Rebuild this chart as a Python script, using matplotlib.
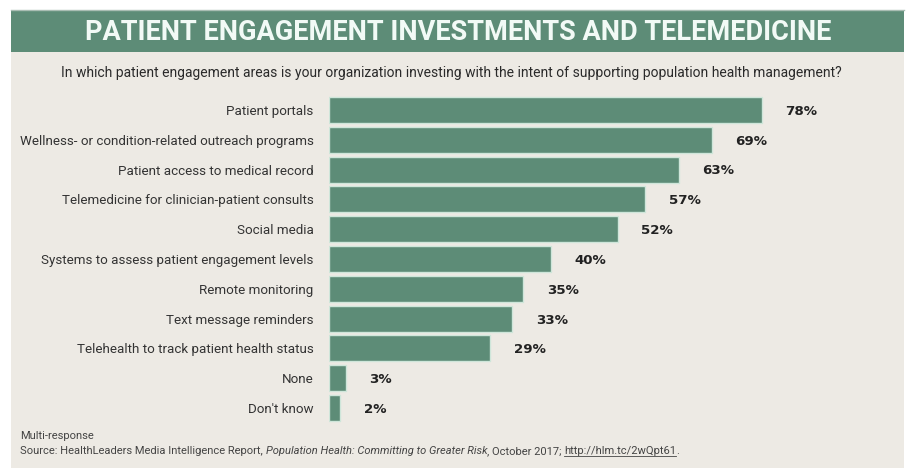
import matplotlib
matplotlib.use("Agg")
import matplotlib.pyplot as plt
from matplotlib.patches import Rectangle
from matplotlib import font_manager

categories = [
    "Patient portals",
    "Wellness- or condition-related outreach programs",
    "Patient access to medical record",
    "Telemedicine for clinician-patient consults",
    "Social media",
    "Systems to assess patient engagement levels",
    "Remote monitoring",
    "Text message reminders",
    "Telehealth to track patient health status",
    "None",
    "Don't know",
]
values = [78, 69, 63, 57, 52, 40, 35, 33, 29, 3, 2]

title = "PATIENT ENGAGEMENT INVESTMENTS AND TELEMEDICINE"
subtitle = ("In which patient engagement areas is your organization investing "
            "with the intent of supporting population health management?")
note = "Multi-response"
source_parts = [
    ("Source: HealthLeaders Media Intelligence Report, ", "normal", False),
    ("Population Health: Committing to Greater Risk", "italic", False),
    (", October 2017; ", "normal", False),
    ("http://hlm.tc/2wQpt61", "normal", True),
    (".", "normal", False),
]

available = {f.name for f in font_manager.fontManager.ttflist}
narrow = "Liberation Sans Narrow" if "Liberation Sans Narrow" in available else "Roboto"
plt.rcParams["font.family"] = [narrow, "DejaVu Sans"]

W, H = 906, 468
fig = plt.figure(figsize=(W / 100, H / 100), dpi=100)
fig.patch.set_facecolor("white")

GREEN = "#5d8c77"
BG = "#edeae4"


def fx(px):
    return px / W


def fy(py):
    return 1 - py / H


# panel background and header band
fig.patches.append(Rectangle((fx(11), 0), fx(W - 13), fy(52), transform=fig.transFigure,
                             facecolor=BG, edgecolor="none", zorder=-10))
fig.patches.append(Rectangle((fx(11), fy(52)), fx(W - 13), fy(10) - fy(52),
                             transform=fig.transFigure, facecolor=GREEN,
                             edgecolor="none", zorder=-10))
fig.add_artist(plt.Line2D([fx(11), fx(W - 2)], [fy(10), fy(10)], transform=fig.transFigure,
                          color="#a9bdb3", linewidth=1.0))

fig.text(fx(458), fy(32), title, ha="center", va="center", color="#f2faf6",
         fontsize=19.5, fontweight="bold", family=[narrow, "DejaVu Sans"])
fig.text(fx(451), fy(73), subtitle, ha="center", va="center", color="#2a2a2a",
         fontsize=10.0)

# bar chart area
ax = fig.add_axes([fx(329), 1 - 423 / H, fx(884 - 329), 328 / H])
ax.set_zorder(5)
ax.set_facecolor("none")
ypos = list(range(len(categories)))
ax.barh(ypos, values, height=0.87, color=GREEN, edgecolor="#cfe6da", linewidth=1.0)
ax.set_xlim(0, 100)
ax.set_ylim(len(categories) - 0.5, -0.5)
ax.set_yticks(ypos)
ax.set_yticklabels(categories, fontsize=9.6, color="#333333")
ax.tick_params(axis="y", length=0, pad=11)
ax.set_xticks([])
for s in ax.spines.values():
    s.set_visible(False)

for y, v in zip(ypos, values):
    ax.annotate(f"{v}%", (v, y), xytext=(17, -1), textcoords="offset points",
                ha="left", va="center", fontsize=9.6, fontweight="bold",
                color="#222222", family=["DejaVu Sans"])

# footnotes
fig.text(fx(20), fy(436), note, ha="left", va="center", fontsize=8, color="#444444")

fig.canvas.draw()
renderer = fig.canvas.get_renderer()
x = fx(20)
for text, style, underline in source_parts:
    t = fig.text(x, fy(451), text, ha="left", va="center", fontsize=8,
                 color="#444444", style=style)
    bb = t.get_window_extent(renderer)
    x0 = bb.x0 / fig.bbox.width
    x1 = bb.x1 / fig.bbox.width
    if underline:
        yl = bb.y0 / fig.bbox.height + 0.001
        fig.add_artist(plt.Line2D([x0, x1], [yl, yl], transform=fig.transFigure,
                                  color="#444444", linewidth=0.6))
    x = x1

fig.savefig("out.png", dpi=100, facecolor=fig.get_facecolor())
